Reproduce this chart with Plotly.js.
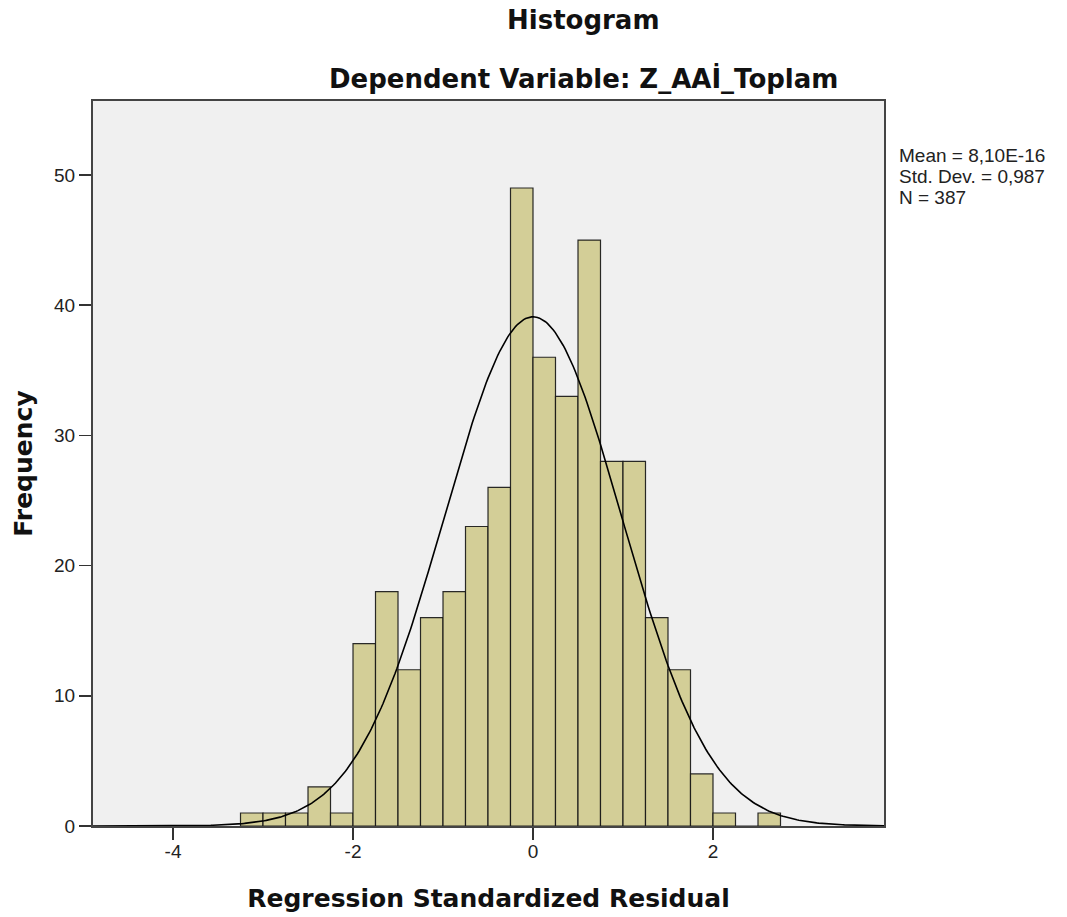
<!DOCTYPE html>
<html>
<head>
<meta charset="utf-8">
<script src="https://cdn.plot.ly/plotly-3.0.1.min.js"></script>
<style>html,body{margin:0;padding:0;background:#fff}</style>
</head>
<body>
<div id="chart" style="width:1067px;height:917px"></div>
<script>
// Bin left edges (bin width 0.25) and frequencies
const binStarts = [-3.25,-3.0,-2.75,-2.5,-2.25,-2.0,-1.75,-1.5,-1.25,-1.0,-0.75,-0.5,-0.25,0.0,0.25,0.5,0.75,1.0,1.25,1.5,1.75,2.0,2.25,2.5];
const counts    = [1,1,1,3,1,14,18,12,16,18,23,26,49,36,33,45,28,28,16,12,4,1,0,1];
const binWidth = 0.25;
const statMean = 8.10e-16;
const statSD = 0.987;
const statN = 387;
const xTicks = [-4,-2,0,2];
const yTicks = [0,10,20,30,40,50];
const statLines = ['Mean = 8,10E-16', 'Std. Dev. = 0,987', 'N = 387'];

// Normal curve from summary statistics
const cx = [], cy = [];
for (let i = 0; i <= 400; i++) {
  const x = -4.9 + i * (8.8 / 400);
  cx.push(x);
  const z = (x - statMean) / statSD;
  cy.push(statN * binWidth / (statSD * Math.sqrt(2 * Math.PI)) * Math.exp(-0.5 * z * z));
}

const font = "Liberation Sans, Arial, sans-serif";
const bold = "DejaVu Sans, Verdana, sans-serif";
const data = [
  {
    type: 'bar', x: binStarts, y: counts, width: binWidth, offset: 0,
    marker: {color: '#D3CE97', line: {color: 'rgba(20,20,20,0.9)', width: 1.2}},
    hoverinfo: 'x+y', showlegend: false
  },
  {
    type: 'scatter', mode: 'lines', x: cx, y: cy,
    line: {color: '#000', width: 1.6}, showlegend: false, hoverinfo: 'skip'
  }
];

const W = 791, H = 725, L = 93, T = 101;
const ann = [
  {xref: 'paper', yref: 'paper', x: (583 - L) / W, y: 1 + (T - 20) / H, xanchor: 'center', yanchor: 'middle',
   text: '<b>Histogram</b>', showarrow: false, font: {size: 26, color: '#111', family: bold}},
  {xref: 'paper', yref: 'paper', x: (583 - L) / W, y: 1 + (T - 78) / H, xanchor: 'center', yanchor: 'middle',
   text: '<b>Dependent Variable: Z_AAİ_Toplam</b>', showarrow: false, font: {size: 26, color: '#111', family: bold}}
];
const statY = [155, 176, 197];
statLines.forEach((t, i) => ann.push({
  xref: 'paper', yref: 'paper', x: (897 - L) / W, y: 1 - (statY[i] - T) / H, xanchor: 'left', yanchor: 'middle',
  text: t, showarrow: false, font: {size: 19, color: '#222', family: font}
}));

const layout = {
  width: 1067, height: 917,
  margin: {l: 93, r: 183, t: 101, b: 91},
  paper_bgcolor: '#ffffff', plot_bgcolor: '#F0F0F0',
  font: {family: font, color: '#222', size: 20},
  bargap: 0,
  xaxis: {
    range: [-4.889, 3.9], tickvals: xTicks, ticktext: xTicks.map(String),
    ticks: 'outside', ticklen: 12, tickwidth: 1.5, tickcolor: '#333', ticklabelstandoff: -5,
    showgrid: false, zeroline: false, showline: true, linecolor: '#444', linewidth: 2, mirror: true,
    tickfont: {size: 19, color: '#222', family: font},
    title: {text: '<b>Regression Standardized Residual</b>', font: {size: 25, color: '#111', family: bold}, standoff: 29}
  },
  yaxis: {
    range: [0, 55.68], tickvals: yTicks, ticktext: yTicks.map(String),
    ticks: 'outside', ticklen: 12, tickwidth: 1.5, tickcolor: '#333',
    showgrid: false, zeroline: false, showline: true, linecolor: '#444', linewidth: 2, mirror: true,
    tickfont: {size: 19, color: '#222', family: font},
    title: {text: '<b>Frequency</b>', font: {size: 25, color: '#111', family: bold}, standoff: 14}
  },
  annotations: ann
};

Plotly.newPlot('chart', data, layout, {displayModeBar: false, staticPlot: true});
</script>
</body>
</html>
